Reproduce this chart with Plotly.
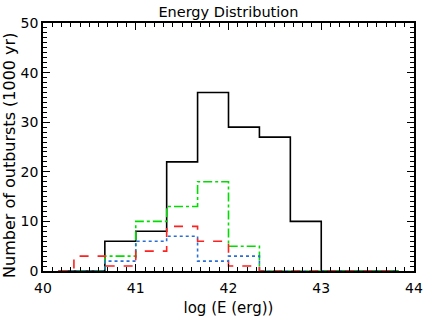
import plotly.graph_objects as go

# Bin centres of log(E) histogram (bin width 1/3)
bin_centers = [40 + (i + 0.5) / 3 for i in range(12)]
total = [0, 0, 6, 8, 22, 36, 29, 27, 10, 0, 0, 0]
green_vals = [0, 0, 3, 10, 13, 18, 5, 0, 0, 0, 0, 0]
blue_vals = [0, 0, 2, 6, 7, 2, 3, 0, 0, 0, 0, 0]
red_vals = [0, 3, 1, 4, 9, 6, 1, 0, 0, 0, 0, 0]

series = [
    ("total", total, "black", "solid"),
    ("green", green_vals, "#00dd00", "dashdot"),
    ("blue", blue_vals, "#2a6fd6", "dot"),
    ("red", red_vals, "#ff2020", "dash"),
]

fig = go.Figure()
for name, vals, col, dash in series:
    fig.add_trace(go.Scatter(x=bin_centers, y=vals, mode="lines", line_shape="hvh",
                             line=dict(color=col, width=1.6, dash=dash), name=name,
                             showlegend=False, cliponaxis=False))

font = dict(family="DejaVu Sans", size=14, color="black")
fig.update_layout(
    width=443, height=317,
    margin=dict(l=43, r=29, t=23, b=46),
    paper_bgcolor="white", plot_bgcolor="white",
    font=font,
    title=dict(text="Energy Distribution", x=0.5155, xanchor="center", y=0.962, yanchor="middle",
               font=dict(family="DejaVu Sans", size=14.5)),
)
axis_common = dict(showline=True, linecolor="black", linewidth=1.5, mirror="ticks",
                   ticks="inside", ticklen=7, tickwidth=1, tickcolor="black",
                   showgrid=False, zeroline=False, tickfont=font, automargin=False)
fig.update_xaxes(range=[40, 44], dtick=1, tick0=40, ticklabelstandoff=3,
                 minor=dict(dtick=0.1, ticks="inside", ticklen=4, tickcolor="black"),
                 title=dict(text="log (E (erg))", font=dict(family="DejaVu Sans", size=15),
                            standoff=12), **axis_common)
fig.update_yaxes(range=[0, 50], dtick=10, tick0=0,
                 minor=dict(dtick=1, ticks="inside", ticklen=4, tickcolor="black"),
                 **axis_common)
fig.add_annotation(text="Number of outbursts (1000 yr)", textangle=-90, xref="paper", yref="paper",
                   x=-0.089, y=0.468, xanchor="center", yanchor="middle", showarrow=False,
                   font=dict(family="DejaVu Sans", size=16))

fig.write_html("out.html", config={"displayModeBar": False},
               post_script="document.body.style.margin='0px';")
